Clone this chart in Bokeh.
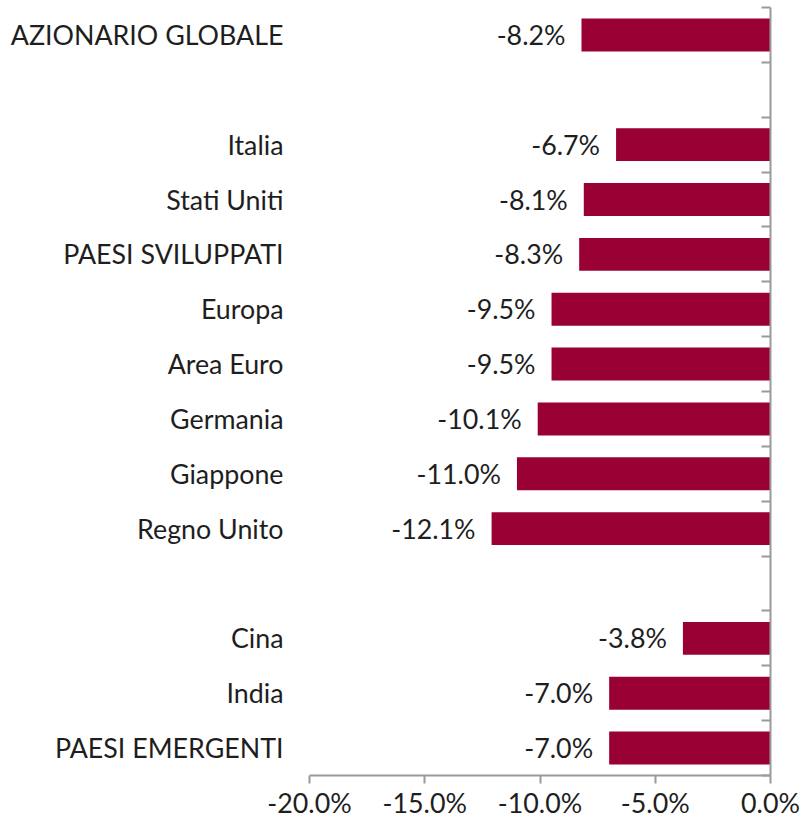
from bokeh.plotting import figure
from bokeh.models import (ColumnDataSource, Range1d, FixedTicker, LinearAxis,
                          PrintfTickFormatter, LabelSet)
from bokeh.core.properties import value
from bokeh.embed import file_html
from bokeh.resources import INLINE

categories = ["AZIONARIO GLOBALE", "", "Italia", "Stati Uniti", "PAESI SVILUPPATI",
              "Europa", "Area Euro", "Germania", "Giappone", "Regno Unito", "",
              "Cina", "India", "PAESI EMERGENTI"]
values = [-8.2, None, -6.7, -8.1, -8.3, -9.5, -9.5, -10.1, -11.0, -12.1, None,
          -3.8, -7.0, -7.0]
x_ticks = [-20, -15, -10, -5, 0]

FONT = "Lato"
FS = "26.8px"
TXT = "#1e1e1e"
AX = "#9a9a9a"
BAR = "#990033"

rows = [i for i, v in enumerate(values) if v is not None]
src = ColumnDataSource(dict(
    y=rows,
    v=[values[i] for i in rows],
    lab=["%.1f%%" % values[i] for i in rows],
))

n = len(categories)
p = figure(frame_width=461, frame_height=768, output_backend="svg",
           toolbar_location=None, x_range=Range1d(-20, 0),
           y_range=Range1d(n - 0.5, -0.5),
           min_border_left=309, min_border_top=7, min_border_right=30,
           min_border_bottom=0, y_axis_location=None)
p.outline_line_color = None
p.xgrid.visible = False
p.ygrid.visible = False
p.background_fill_color = "white"
p.border_fill_color = "white"

p.hbar(y="y", left="v", right=0, height=0.6, source=src,
       fill_color=BAR, line_color=None)

labels = LabelSet(x="v", y="y", text="lab", source=src, x_offset=-16,
                  text_align="right", text_baseline="middle",
                  text_font=value(FONT), text_font_size=value(FS),
                  text_color=TXT)
p.add_layout(labels)

# x axis
xa = p.xaxis[0]
xa.ticker = FixedTicker(ticks=x_ticks)
xa.formatter = PrintfTickFormatter(format="%.1f%%")
xa.axis_line_color = AX
xa.axis_line_width = 2
xa.major_tick_line_color = AX
xa.major_tick_line_width = 2
xa.major_tick_in = 0
xa.major_tick_out = 8
xa.minor_tick_line_color = None
xa.major_label_text_font = FONT
xa.major_label_text_font_size = FS
xa.major_label_text_color = TXT
xa.major_label_standoff = 3

# left category labels
la = LinearAxis(ticker=FixedTicker(ticks=rows),
                major_label_overrides={i: categories[i] for i in rows})
la.axis_line_color = None
la.major_tick_line_color = None
la.minor_tick_line_color = None
la.major_tick_in = 0
la.major_tick_out = 0
la.major_label_standoff = 26
la.major_label_text_font = FONT
la.major_label_text_font_size = FS
la.major_label_text_color = TXT
p.add_layout(la, "left")

# right axis at zero with boundary ticks
ra = LinearAxis(ticker=FixedTicker(ticks=[i - 0.5 for i in range(n + 1)]))
ra.axis_line_color = AX
ra.axis_line_width = 2
ra.major_tick_line_color = AX
ra.major_tick_line_width = 2
ra.major_tick_in = 9
ra.major_tick_out = 0
ra.minor_tick_line_color = None
ra.major_label_text_font_size = "0px"
ra.major_label_text_color = None
ra.major_label_standoff = 0
p.add_layout(ra, "right")

open("out.html", "w").write(file_html(p, INLINE))
